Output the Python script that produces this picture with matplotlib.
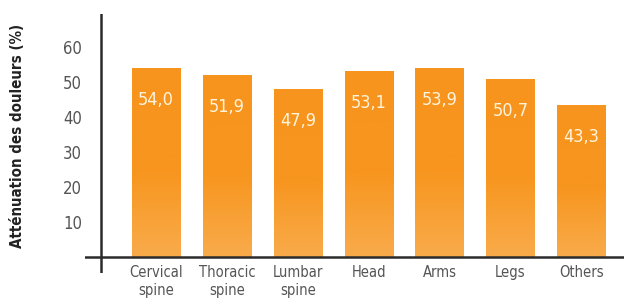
import matplotlib
matplotlib.use("Agg")
import matplotlib.pyplot as plt
import numpy as np
from matplotlib.colors import LinearSegmentedColormap

categories = ["Cervical\nspine", "Thoracic\nspine", "Lumbar\nspine", "Head", "Arms", "Legs", "Others"]
values = [54.0, 51.9, 47.9, 53.1, 53.9, 50.7, 43.3]
value_labels = ["54,0", "51,9", "47,9", "53,1", "53,9", "50,7", "43,3"]
yticks = [10, 20, 30, 40, 50, 60]

W, H = 624, 305
fig = plt.figure(figsize=(W / 100, H / 100), dpi=100)
# axes spans pixels x 85..624, y 14..273
ax = fig.add_axes([85 / W, (H - 273) / H, (624 - 85) / W, (273 - 14) / H])
ax.set_xlim(-1.0, 6.6)
ax.set_ylim(-4.6, 69.4)
for s in ax.spines.values():
    s.set_visible(False)

font = "DejaVu Sans"
cond = "condensed"

# gradient: lighter at bottom, solid orange above the middle
cmap = LinearSegmentedColormap.from_list("og", [(0, "#f9ab4b"), (0.45, "#f7961f"), (1, "#f7941d")])
x = np.arange(len(values))
bars = ax.bar(x, values, width=0.68, color="none", edgecolor="none", zorder=2)
grad = np.linspace(0, 1, 256).reshape(-1, 1)
for b in bars:
    x0, w, h = b.get_x(), b.get_width(), b.get_height()
    im = ax.imshow(grad, cmap=cmap, origin="lower", aspect="auto",
                   extent=[x0, x0 + w, 0, h], zorder=2)
    im.set_clip_path(b)

for xi, v, lab in zip(x, values, value_labels):
    ax.annotate(lab, (xi, v), xytext=(0, -23), textcoords="offset points",
                ha="center", va="center", color="#fff4dc", fontsize=13,
                family=font, fontstretch=cond, fontweight="light", zorder=3)

ax.axhline(0, color="#2b2b2b", lw=1.8, zorder=4)
ax.axvline(-0.776, color="#2b2b2b", lw=1.8, zorder=4)

ax.set_xticks(x)
ax.set_xticklabels(categories, fontsize=10.5, color="#555555", family=font,
                   fontstretch=cond, linespacing=1.3)
ax.set_yticks(yticks)
ax.set_yticklabels([str(t) for t in yticks], fontsize=12, color="#555555",
                   family=font, fontstretch=cond)
ax.tick_params(axis="both", length=0)
ax.tick_params(axis="x", pad=-6)
ax.tick_params(axis="y", pad=2)
ax.set_ylabel("Atténuation des douleurs (%)", fontsize=10.8, fontweight="bold",
              color="#222222", family=font, fontstretch=cond)
ax.yaxis.set_label_coords(-0.111, 0.529)

fig.savefig("out.png", dpi=100)
